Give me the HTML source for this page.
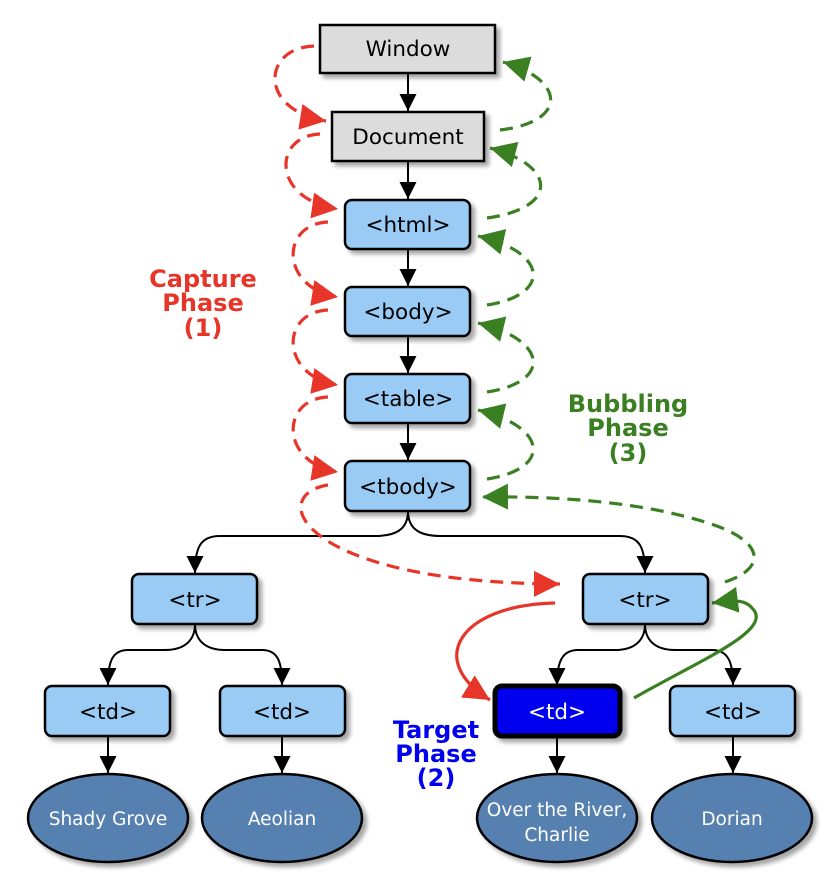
<!DOCTYPE html>
<html><head><meta charset="utf-8"><style>
html,body{margin:0;padding:0;background:#fff;}
svg{display:block;}
.n{font-family:"DejaVu Sans","Liberation Sans",sans-serif;font-size:21.5px;text-anchor:middle;}
.e{font-family:"DejaVu Sans","Liberation Sans",sans-serif;font-size:18.5px;text-anchor:middle;fill:#fff;}
.lbl{font-family:"DejaVu Sans","Liberation Sans",sans-serif;font-weight:bold;font-size:24px;text-anchor:middle;}
</style></head><body>
<svg width="834" height="878" viewBox="0 0 834 878" xmlns="http://www.w3.org/2000/svg">
<defs>
<marker id="ak" viewBox="0 0 10 10" refX="10" refY="5" markerWidth="17" markerHeight="17" markerUnits="userSpaceOnUse" orient="auto"><path d="M0,0 L10,5 L0,10 z" fill="#000"/></marker>
<marker id="ar" viewBox="0 0 10 10" refX="10" refY="5" markerWidth="26" markerHeight="26" markerUnits="userSpaceOnUse" orient="auto"><path d="M0,0 L10,5 L0,10 z" fill="#e8352a"/></marker>
<marker id="ag" viewBox="0 0 10 10" refX="10" refY="5" markerWidth="26" markerHeight="26" markerUnits="userSpaceOnUse" orient="auto"><path d="M0,0 L10,5 L0,10 z" fill="#3a7f22"/></marker>
<filter id="sh" x="-20%" y="-20%" width="140%" height="160%"><feDropShadow dx="4" dy="4" stdDeviation="2" flood-color="#000" flood-opacity="0.35"/></filter>
</defs>

<g stroke="#000" stroke-width="2" fill="none">
<path d="M408,73 V111" marker-end="url(#ak)"/>
<path d="M408,161 V199" marker-end="url(#ak)"/>
<path d="M408,249 V286" marker-end="url(#ak)"/>
<path d="M408,336 V373" marker-end="url(#ak)"/>
<path d="M408,423 V460" marker-end="url(#ak)"/>
<path d="M408,511 C408,530 395,536 375,536 L220,536 C200,536 195,548 195,573" marker-end="url(#ak)"/>
<path d="M408,511 C408,530 421,536 441,536 L620,536 C640,536 645,548 645,573" marker-end="url(#ak)"/>
<path d="M195,624 C195,640 185,650 165,650 L128,650 C112,650 108,662 108,685" marker-end="url(#ak)"/>
<path d="M195,624 C195,640 205,650 225,650 L262,650 C278,650 282,662 282,685" marker-end="url(#ak)"/>
<path d="M645,624 C645,640 635,650 615,650 L578,650 C562,650 557,662 557,685" marker-end="url(#ak)"/>
<path d="M645,624 C645,640 655,650 675,650 L712,650 C728,650 733,662 733,685" marker-end="url(#ak)"/>
<path d="M108,736 V773" marker-end="url(#ak)"/>
<path d="M282,736 V773" marker-end="url(#ak)"/>
<path d="M557,736 V773" marker-end="url(#ak)"/>
<path d="M733,736 V773" marker-end="url(#ak)"/>
</g>

<g stroke="#e8352a" stroke-width="3.2" fill="none" stroke-dasharray="13,8">
<path d="M314,46 C262,48 258,110 326,121" marker-end="url(#ar)"/>
<path d="M320,134 C272,136 272,200 338,209" marker-end="url(#ar)"/>
<path d="M328,222 C280,224 280,288 338,297" marker-end="url(#ar)"/>
<path d="M328,310 C280,312 280,376 338,385" marker-end="url(#ar)"/>
<path d="M328,397 C280,399 280,463 338,472" marker-end="url(#ar)"/>
<path d="M328,485 C265,495 300,583 560,584" marker-end="url(#ar)"/>
</g>
<path d="M555,603 C460,605 425,660 490,700" stroke="#e8352a" stroke-width="3.2" fill="none" marker-end="url(#ar)"/>

<g stroke="#3a7f22" stroke-width="3.2" fill="none" stroke-dasharray="13,8">
<path d="M500,130 C568,122 566,80 503,62" marker-end="url(#ag)"/>
<path d="M487,218 C560,208 556,165 490,148" marker-end="url(#ag)"/>
<path d="M487,305 C552,295 548,252 478,236" marker-end="url(#ag)"/>
<path d="M487,392 C552,382 548,340 478,323" marker-end="url(#ag)"/>
<path d="M487,479 C552,469 548,427 478,410" marker-end="url(#ag)"/>
<path d="M725,582 C768,568 765,540 705,522 C640,502 560,496 482,497" marker-end="url(#ag)"/>
</g>
<path d="M634,698 C700,660 775,630 752,608 C744,598 728,601 712,603" stroke="#3a7f22" stroke-width="3.2" fill="none" marker-end="url(#ag)"/>

<g stroke="#000" stroke-width="2.5" filter="url(#sh)">
<rect x="320" y="25" width="175" height="48" fill="#dcdcdc"/>
<rect x="332" y="112" width="152" height="49" fill="#dcdcdc"/>
<rect x="345" y="200" width="125" height="49" rx="7" fill="#99cbf4"/>
<rect x="345" y="287" width="125" height="49" rx="7" fill="#99cbf4"/>
<rect x="345" y="374" width="125" height="49" rx="7" fill="#99cbf4"/>
<rect x="345" y="461" width="125" height="50" rx="7" fill="#99cbf4"/>
<rect x="132" y="574" width="125" height="50" rx="7" fill="#99cbf4"/>
<rect x="583" y="574" width="125" height="50" rx="7" fill="#99cbf4"/>
<rect x="45" y="686" width="125" height="50" rx="7" fill="#99cbf4"/>
<rect x="220" y="686" width="125" height="50" rx="7" fill="#99cbf4"/>
<rect x="495" y="686" width="125" height="50" rx="7" fill="#0000ee" stroke-width="5"/>
<rect x="670" y="686" width="125" height="50" rx="7" fill="#99cbf4"/>
<ellipse cx="108" cy="818" rx="80" ry="44" fill="#5580b0"/>
<ellipse cx="282" cy="818" rx="80" ry="44" fill="#5580b0"/>
<ellipse cx="557" cy="818" rx="80" ry="44" fill="#5580b0"/>
<ellipse cx="732" cy="818" rx="80" ry="44" fill="#5580b0"/>
</g>

<g class="n">
<text x="408" y="56">Window</text>
<text x="408" y="144">Document</text>
<text x="408" y="232">&lt;html&gt;</text>
<text x="408" y="319">&lt;body&gt;</text>
<text x="408" y="406">&lt;table&gt;</text>
<text x="408" y="494">&lt;tbody&gt;</text>
<text x="195" y="607">&lt;tr&gt;</text>
<text x="645" y="607">&lt;tr&gt;</text>
<text x="108" y="719">&lt;td&gt;</text>
<text x="282" y="719">&lt;td&gt;</text>
<text x="557" y="719" fill="#fff">&lt;td&gt;</text>
<text x="733" y="719">&lt;td&gt;</text>
</g>
<g class="e">
<text x="108" y="825">Shady Grove</text>
<text x="282" y="825">Aeolian</text>
<text x="557" y="816">Over the River,</text>
<text x="557" y="841">Charlie</text>
<text x="732" y="825">Dorian</text>
</g>

<g class="lbl" fill="#e8352a">
<text x="203" y="287">Capture</text>
<text x="203" y="311">Phase</text>
<text x="203" y="336">(1)</text>
</g>
<g class="lbl" fill="#3a7f22">
<text x="628" y="412">Bubbling</text>
<text x="628" y="436">Phase</text>
<text x="628" y="461">(3)</text>
</g>
<g class="lbl" fill="#0000ee">
<text x="436" y="738">Target</text>
<text x="436" y="762">Phase</text>
<text x="436" y="786">(2)</text>
</g>
</svg>
</body></html>
